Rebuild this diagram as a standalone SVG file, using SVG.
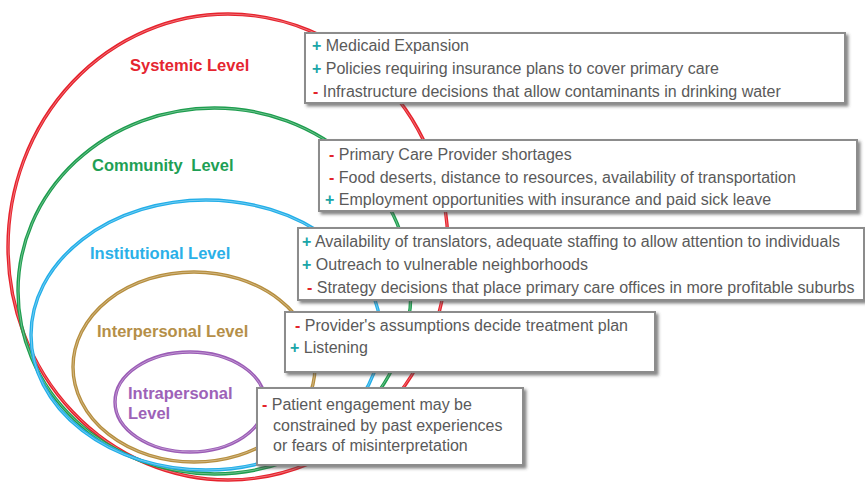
<svg xmlns="http://www.w3.org/2000/svg" width="865" height="485" viewBox="0 0 865 485">
  <defs>
    <filter id="shadow" x="-5%" y="-10%" width="112%" height="130%">
      <feDropShadow dx="2.5" dy="2.5" stdDeviation="1.6" flood-color="#444" flood-opacity="0.65"/>
    </filter>
    <style>
      .ring { fill: none; stroke-width: 3.4; }
      .shine { fill: none; stroke: #fff; stroke-width: 0.8; stroke-opacity: 0.45; }
      .lbl { font-family: "Liberation Sans", Arial, sans-serif; font-size: 16.5px; font-weight: bold; }
      .box rect { fill: #fff; stroke: #8c8c8c; stroke-width: 2; filter: url(#shadow); }
      .box text { font-family: "Liberation Sans", Arial, sans-serif; font-size: 16px; fill: #5a5a5a; }
      .pos { fill: #1aa5a8; font-weight: bold; }
      .neg { fill: #e3242b; font-weight: bold; }
    </style>
  </defs>
  <rect width="865" height="485" fill="#fff"/>

  <!-- nested levels, outermost first -->
  <g id="systemic">
    <ellipse class="ring" cx="228" cy="247" rx="220" ry="233" stroke="#e6222c"/>
    <ellipse class="shine" cx="228" cy="247" rx="220" ry="233"/>
    <text class="lbl" x="130" y="71" fill="#e52530">Systemic Level</text>
  </g>
  <g id="community">
    <ellipse class="ring" cx="214.5" cy="291" rx="196.5" ry="183" stroke="#1d9d4e"/>
    <ellipse class="shine" cx="214.5" cy="291" rx="196.5" ry="183"/>
    <text class="lbl" x="92" y="171" fill="#1e9f55" word-spacing="4">Community Level</text>
  </g>
  <g id="institutional">
    <ellipse class="ring" cx="206" cy="335" rx="175" ry="135" stroke="#22aee8"/>
    <ellipse class="shine" cx="206" cy="335" rx="175" ry="135"/>
    <text class="lbl" x="90" y="259" fill="#2bb0e8">Institutional Level</text>
  </g>
  <g id="interpersonal">
    <ellipse class="ring" cx="194" cy="367" rx="121" ry="95" stroke="#b68e3e"/>
    <ellipse class="shine" cx="194" cy="367" rx="121" ry="95"/>
    <text class="lbl" x="97" y="337" fill="#b58f48">Interpersonal Level</text>
  </g>
  <g id="intrapersonal">
    <ellipse class="ring" cx="190" cy="402" rx="75" ry="50" stroke="#9b5cb6"/>
    <ellipse class="shine" cx="190" cy="402" rx="75" ry="50"/>
    <text class="lbl" fill="#9d62b8"><tspan x="128" y="399">Intrapersonal</tspan><tspan x="128" y="419">Level</tspan></text>
  </g>

  <!-- factor boxes -->
  <g id="box-systemic" class="box">
    <rect x="305" y="33" width="540" height="70"/>
    <text x="312" y="51"><tspan class="pos">+</tspan> Medicaid Expansion</text>
    <text x="312" y="74"><tspan class="pos">+</tspan> Policies requiring insurance plans to cover primary care</text>
    <text x="313" y="97"><tspan class="neg">-</tspan> Infrastructure decisions that allow contaminants in drinking water</text>
  </g>
  <g id="box-community" class="box">
    <rect x="319" y="140" width="538" height="71"/>
    <text x="329" y="160"><tspan class="neg">-</tspan> Primary Care Provider shortages</text>
    <text x="329" y="183"><tspan class="neg">-</tspan> Food deserts, distance to resources, availability of transportation</text>
    <text x="325" y="205"><tspan class="pos">+</tspan> Employment opportunities with insurance and paid sick leave</text>
  </g>
  <g id="box-institutional" class="box">
    <rect x="298" y="228" width="566" height="72"/>
    <text x="302" y="247"><tspan class="pos">+</tspan> Availability of translators, adequate staffing to allow attention to individuals</text>
    <text x="302" y="270"><tspan class="pos">+</tspan> Outreach to vulnerable neighborhoods</text>
    <text x="307" y="293"><tspan class="neg">-</tspan> Strategy decisions that place primary care offices in more profitable suburbs</text>
  </g>
  <g id="box-interpersonal" class="box">
    <rect x="285" y="312" width="370" height="60"/>
    <text x="295" y="331"><tspan class="neg">-</tspan> Provider's assumptions decide treatment plan</text>
    <text x="290" y="353"><tspan class="pos">+</tspan> Listening</text>
  </g>
  <g id="box-intrapersonal" class="box">
    <rect x="257" y="388" width="266" height="77"/>
    <text x="262" y="410"><tspan class="neg">-</tspan> Patient engagement may be</text>
    <text x="273" y="431">constrained by past experiences</text>
    <text x="273" y="451">or fears of misinterpretation</text>
  </g>
</svg>
